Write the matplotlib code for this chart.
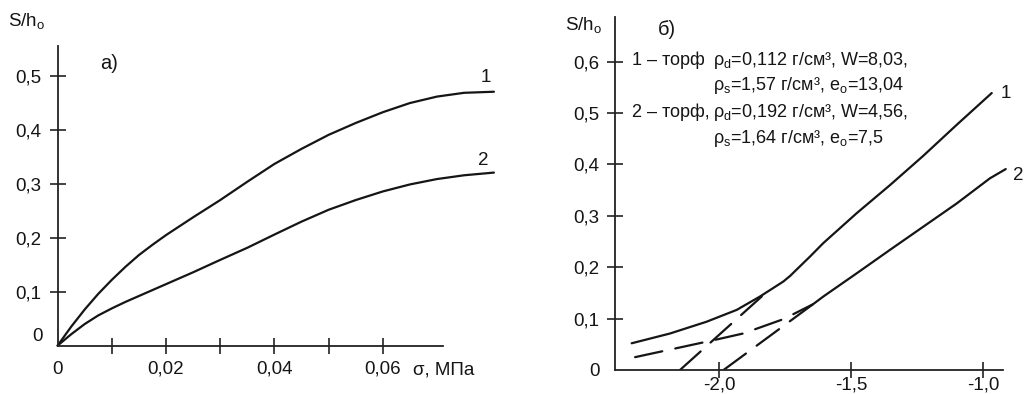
import matplotlib
matplotlib.use("Agg")
import matplotlib.pyplot as plt

# ---------------- data ----------------
# panel a)
sigma_mpa = [0, 0.0025, 0.005, 0.0075, 0.01, 0.0125, 0.015, 0.0175, 0.02, 0.025,
             0.03, 0.035, 0.04, 0.045, 0.05, 0.055, 0.06, 0.065, 0.07, 0.075, 0.0805]
a_curve1 = [0, 0.035, 0.067, 0.096, 0.122, 0.146, 0.168, 0.187, 0.205, 0.238,
            0.270, 0.304, 0.337, 0.365, 0.391, 0.413, 0.433, 0.450, 0.462, 0.469, 0.471]
a_curve2 = [0, 0.021, 0.040, 0.056, 0.069, 0.081, 0.092, 0.103, 0.114, 0.136,
            0.159, 0.1815, 0.206, 0.230, 0.252, 0.270, 0.286, 0.299, 0.309, 0.316, 0.321]
a_xticks = [0.0, 0.02, 0.04, 0.06]
a_xticklabels = ["0", "0,02", "0,04", "0,06"]
a_xminor = [0.01, 0.03, 0.05]
a_yticks = [0.1, 0.2, 0.3, 0.4, 0.5]
a_yticklabels = ["0,1", "0,2", "0,3", "0,4", "0,5"]

# panel б)
b_curve1_x = [-2.332, -2.187, -2.048, -1.934, -1.846, -1.758, -1.732, -1.700, -1.656,
              -1.606, -1.480, -1.353, -1.227, -1.101, -0.968]
b_curve1_y = [0.052, 0.071, 0.094, 0.117, 0.143, 0.172, 0.183, 0.199, 0.221,
              0.247, 0.305, 0.360, 0.417, 0.477, 0.539]
b_curve2_x = [-1.645, -1.606, -1.480, -1.353, -1.227, -1.101, -0.975, -0.915]
b_curve2_y = [0.128, 0.143, 0.188, 0.234, 0.279, 0.324, 0.373, 0.391]
b_dash1_x = [-2.149, -1.833]
b_dash1_y = [0.0, 0.146]
b_dash2_x = [-2.319, -2.022, -1.910, -1.757, -1.645]
b_dash2_y = [0.025, 0.058, 0.071, 0.099, 0.128]
b_dash3_x = [-1.984, -1.645]
b_dash3_y = [0.0, 0.128]
b_xticks = [-2.0, -1.5, -1.0]
b_xticklabels = ["-2,0", "-1,5", "-1,0"]
b_yticks = [0.0, 0.1, 0.2, 0.3, 0.4, 0.5, 0.6]
b_yticklabels = ["0", "0,1", "0,2", "0,3", "0,4", "0,5", "0,6"]

legend_names = ["1 – торф", "2 – торф,"]
legend_params = [
    ["$\\mathrm{\\rho}_\\mathrm{d}$=0,112 г/см³, W=8,03,",
     "$\\mathrm{\\rho}_\\mathrm{s}$=1,57 г/см³, e$_\\mathrm{o}$=13,04"],
    ["$\\mathrm{\\rho}_\\mathrm{d}$=0,192 г/см³, W=4,56,",
     "$\\mathrm{\\rho}_\\mathrm{s}$=1,64 г/см³, e$_\\mathrm{o}$=7,5"],
]

# ---------------- style ----------------
FAM = ["Liberation Sans Narrow", "Liberation Sans", "DejaVu Sans"]
plt.rcParams["font.family"] = FAM
plt.rcParams["mathtext.fontset"] = "custom"
plt.rcParams["mathtext.rm"] = "Liberation Sans"
plt.rcParams["mathtext.it"] = "Liberation Sans:italic"
plt.rcParams["mathtext.bf"] = "Liberation Sans:bold"
FS = 13.5
FS_BLOCK = 13
INK = "#151515"
LW = 1.6

fig = plt.figure(figsize=(10.25, 3.94), dpi=100)

def style_axes(ax):
    for s in ("top", "right"):
        ax.spines[s].set_visible(False)
    for s in ("left", "bottom"):
        ax.spines[s].set_linewidth(1.3)
        ax.spines[s].set_color("#222222")
    ax.tick_params(which="both", direction="inout", length=11, width=1.2,
                   color="#222222", labelsize=FS, labelcolor=INK)

# ---------------- panel a ----------------
ax1 = fig.add_axes([57.6 / 1025, 48.4 / 394, 460.7 / 1025, 323.4 / 394])
ax1.set_xlim(0, 0.085)
ax1.set_ylim(0, 0.6)
style_axes(ax1)
ax1.spines["left"].set_bounds(0, 0.555)
ax1.spines["bottom"].set_bounds(0, 0.0711)
ax1.plot(sigma_mpa, a_curve1, color=INK, lw=LW, solid_capstyle="round",
         solid_joinstyle="round", clip_on=False)
ax1.plot(sigma_mpa, a_curve2, color=INK, lw=LW, solid_capstyle="round",
         solid_joinstyle="round", clip_on=False)
ax1.set_xticks(a_xticks)
ax1.set_xticklabels(a_xticklabels)
ax1.set_xticks(a_xminor, minor=True)
ax1.set_yticks(a_yticks)
ax1.set_yticklabels(a_yticklabels)
ax1.tick_params(axis="x", which="both", pad=5.5)
ax1.tick_params(axis="y", pad=6)
ax1.xaxis.get_major_ticks()[0].tick1line.set_visible(False)
ax1.text(-0.0027, 0.016, "0", ha="right", va="center", fontsize=FS, color=INK, clip_on=False)
ax1.text(-0.00915, 0.5935, "S/h$_\\mathrm{o}$", ha="left", va="baseline", fontsize=FS, color=INK, clip_on=False)
ax1.text(0.0078, 0.514, "а)", ha="left", va="baseline", fontsize=FS + 1, color=INK)
ax1.text(0.0656, -0.0545, "σ, МПа", ha="left", va="baseline", fontsize=FS, color=INK, clip_on=False)
ax1.text(0.0781, 0.4896, "1", ha="left", va="baseline", fontsize=FS, color=INK, clip_on=False)
ax1.text(0.0775, 0.335, "2", ha="left", va="baseline", fontsize=FS, color=INK, clip_on=False)

# ---------------- panel б ----------------
ax2 = fig.add_axes([615.3 / 1025, 24 / 394, 407.6 / 1025, 359.7 / 394])
ax2.set_xlim(-2.394, -0.85)
ax2.set_ylim(0, 0.7)
style_axes(ax2)
ax2.spines["left"].set_bounds(0, 0.687)
ax2.spines["bottom"].set_bounds(-2.394, -0.924)
ax2.plot(b_curve1_x, b_curve1_y, color=INK, lw=LW, solid_capstyle="round",
         solid_joinstyle="round", clip_on=False)
ax2.plot(b_curve2_x, b_curve2_y, color=INK, lw=LW, solid_capstyle="round",
         solid_joinstyle="round", clip_on=False)
for dx, dy in ((b_dash1_x, b_dash1_y), (b_dash2_x, b_dash2_y), (b_dash3_x, b_dash3_y)):
    ax2.plot(dx, dy, color=INK, lw=LW, dashes=(12.5, 6.0), dash_capstyle="round")
ax2.set_xticks(b_xticks)
ax2.set_xticklabels(b_xticklabels)
ax2.set_yticks(b_yticks)
ax2.set_yticklabels(b_yticklabels)
ax2.tick_params(axis="x", pad=-0.8)
ax2.tick_params(axis="y", pad=6)
ax2.yaxis.get_major_ticks()[0].tick1line.set_visible(False)
ax2.text(-2.584, 0.662, "S/h$_\\mathrm{o}$", ha="left", va="baseline", fontsize=FS, color=INK, clip_on=False)
ax2.text(-2.232, 0.652, "б)", ha="left", va="baseline", fontsize=FS + 1, color=INK)
ax2.text(-0.936, 0.5288, "1", ha="left", va="baseline", fontsize=FS, color=INK, clip_on=False)
ax2.text(-0.888, 0.370, "2", ha="left", va="baseline", fontsize=FS, color=INK, clip_on=False)

name_x = -2.332
param_x = -2.025
baselines = [[0.5936, 0.545], [0.493, 0.441]]
for name, params, ys in zip(legend_names, legend_params, baselines):
    ax2.text(name_x, ys[0], name, ha="left", va="baseline", fontsize=FS_BLOCK, color=INK)
    for p, y in zip(params, ys):
        ax2.text(param_x, y, p, ha="left", va="baseline", fontsize=FS_BLOCK, color=INK)

fig.savefig("out.png", dpi=100, facecolor="white")
